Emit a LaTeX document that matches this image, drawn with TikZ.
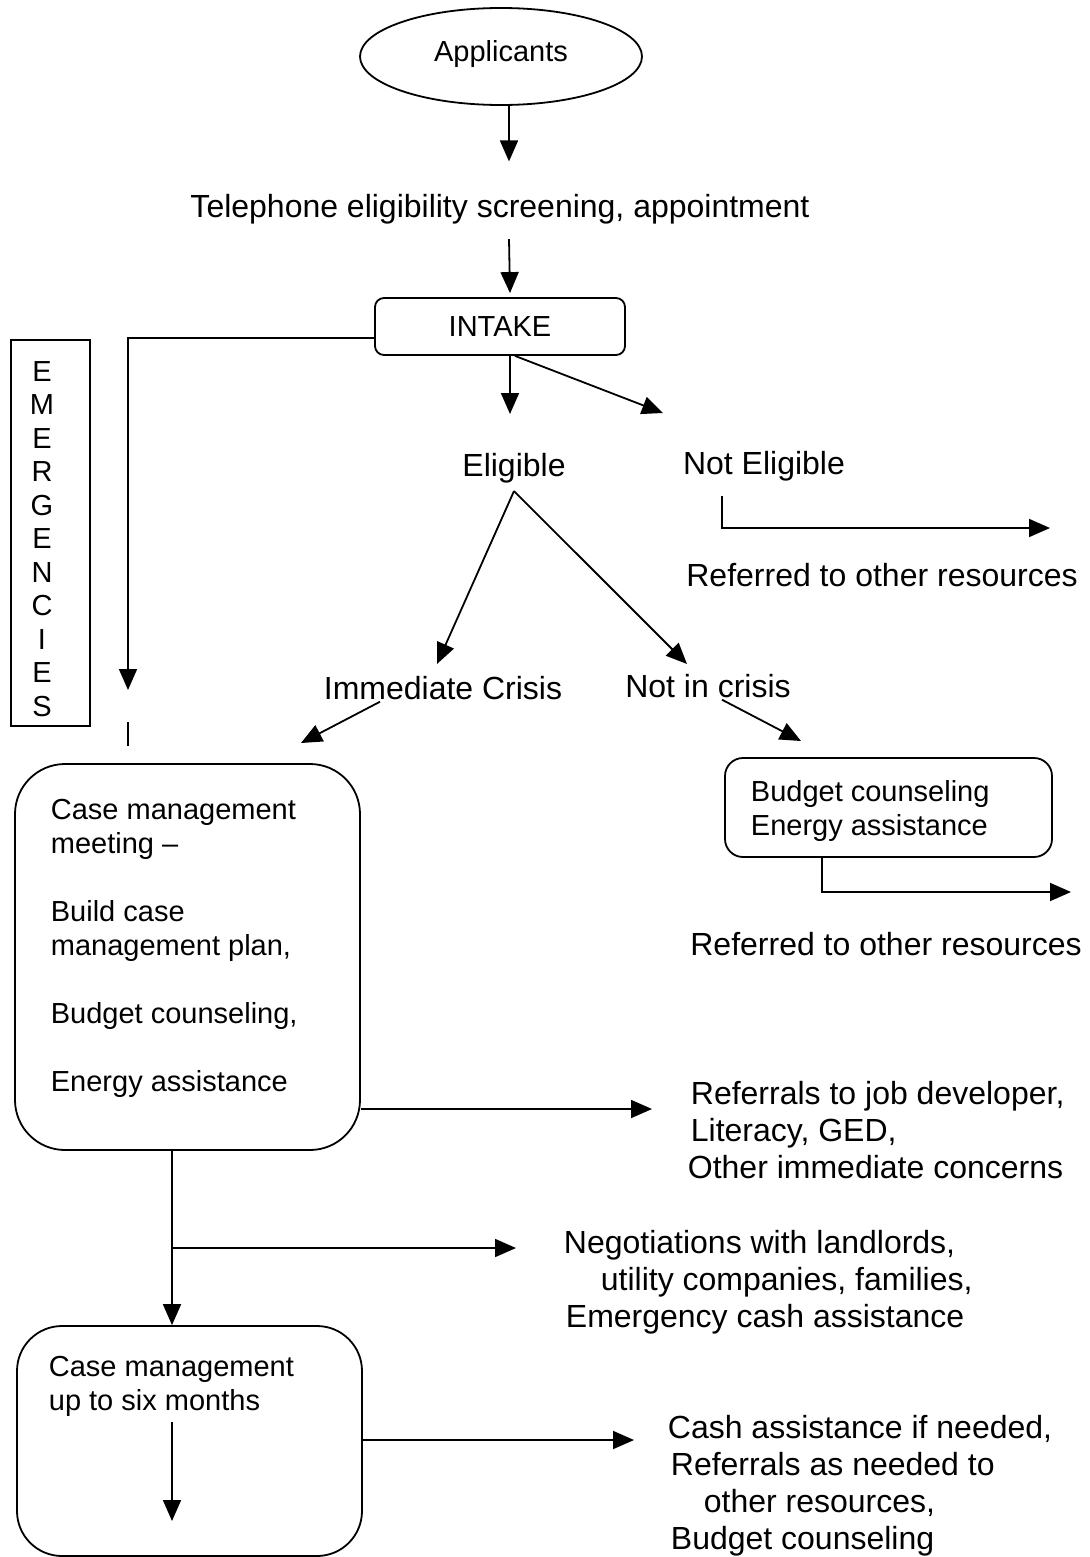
\documentclass[tikz,border=0pt]{standalone}
\usepackage{fontspec}
\setmainfont{Liberation Sans}
\usetikzlibrary{arrows.meta,shapes.geometric}
\begin{document}
\begin{tikzpicture}[x=1pt,y=-1pt,
  line width=1.8pt,
  arr/.style={-{Triangle[length=21pt,width=18pt]}},
  big/.style={font=\fontsize{32}{37}\selectfont, inner sep=0pt},
  sm/.style={font=\fontsize{29}{34}\selectfont, inner sep=0pt},
  box/.style={draw, line width=1.8pt, inner sep=0pt}]
\useasboundingbox (0,0) rectangle (1089,1557);

% top
\node[draw, ellipse, minimum width=282pt, minimum height=97pt, inner sep=0pt,
  font=\fontsize{29}{34}\selectfont] (app) at (501,56.5) {\raisebox{11pt}{Applicants}};
\node[big, anchor=base] (tel) at (500,217.5) {Telephone eligibility screening, appointment};
\node[box, rounded corners=9pt, minimum width=250pt, minimum height=57pt, sm] (intake) at (500,326.5) {INTAKE};

\draw[arr] ([xshift=8pt]app.south) -- ([xshift=9pt,yshift=32pt]tel.north);
\draw[arr] ([xshift=9pt,yshift=-14pt]tel.south) -- ([xshift=10pt,yshift=4pt]intake.north);

% emergencies
\node[draw, line width=1.5pt, minimum width=79pt, minimum height=386pt, inner sep=0pt] (emerg) at (50.5,533) {};
\foreach \L [count=\i] in {E,M,E,R,G,E,N,C,I,E,S}
  \node[sm, anchor=base] (em\i) at (42,{381+33.5*(\i-1)}) {\L};
\coordinate (emtip) at (128,690);
\draw[arr] (intake.west |- 0,338) -| (emtip);
\coordinate (emA) at (128,722);
\coordinate (emB) at (128,746);
\draw (emA) -- (emB);

% eligibility
\node[big, anchor=base] (elig) at (514,476.5) {Eligible};
\node[big, anchor=base] (nelig) at (764,474.5) {Not Eligible};
\coordinate (eligtop) at (510,414);
\coordinate (neligtop) at (663,413);
\draw[arr] ([xshift=10pt]intake.south) -- (eligtop);
\draw[arr] ([xshift=15pt]intake.south) -- (neligtop);

\node[big, anchor=base] (ref1) at (882,586.5) {Referred to other resources};
\coordinate (ref1tip) at (1050,528);
\draw[arr] ([xshift=-42pt,yshift=-14pt]nelig.south) |- (ref1tip);

\node[big, anchor=base] (crisis) at (443,699.5) {Immediate Crisis};
\node[big, anchor=base] (nocrisis) at (708,697.5) {Not in crisis};
\coordinate (crisistip) at (437,664);
\coordinate (nocrisistip) at (687,664);
\draw[arr] ([yshift=-7pt]elig.south) -- (crisistip);
\draw[arr] ([yshift=-7pt]elig.south) -- (nocrisistip);

% case management meeting
\node[box, rounded corners=50pt, minimum width=345pt, minimum height=386pt] (case1) at (187.5,957) {};
\node[sm, anchor=base west, align=left] (case1txt) at (50,1091.5)
  {Case management\\meeting –\\[34pt]Build case\\management plan,\\[34pt]Budget counseling,\\[34pt]Energy assistance};
\coordinate (c1tip) at (301,743);
\draw[arr] ([xshift=-63pt,yshift=-1pt]crisis.south) -- (c1tip);

% budget box
\node[box, rounded corners=18pt, minimum width=327pt, minimum height=99pt] (bud) at (888.5,807.5) {};
\node[sm, anchor=base west, align=left] (budtxt) at (750,835.5) {Budget counseling\\Energy assistance};
\coordinate (budtip) at (801,741);
\draw[arr] ([xshift=14pt,yshift=-1pt]nocrisis.south) -- (budtip);

\node[big, anchor=base] (ref2) at (886,955.5) {Referred to other resources};
\coordinate (ref2tip) at (1071,892);
\draw[arr] ([xshift=-66.5pt]bud.south) |- (ref2tip);

% referrals
\node[big, anchor=base west, align=left] (refs) at (690,1178.5)
  {Referrals to job developer,\\Literacy, GED,\\\hspace*{-3pt}Other immediate concerns};
\coordinate (refstip) at (652,1109);
\draw[arr] (case1.east |- refstip) -- (refstip);

% case management 2
\node[box, rounded corners=45pt, minimum width=345pt, minimum height=230pt] (case2) at (189.5,1441) {};
\node[sm, anchor=base west, align=left] (case2txt) at (48,1410.5) {Case management\\up to six months};

\coordinate (spine) at (172,1248);
\coordinate (negtip) at (516,1248);
\draw[arr] (case1.south -| spine) -- (case2.north -| spine);
\draw[arr] (spine) -- (negtip);
\node[big, anchor=base west, align=left] (neg) at (563,1327.5)
  {Negotiations with landlords,\\\hspace*{37pt}utility companies, families,\\\hspace*{2pt}Emergency cash assistance};

\coordinate (c2tip) at (172,1521);
\draw[arr] ([yshift=-5pt]case2txt.south -| spine) -- (c2tip);

\coordinate (cashtip) at (634,1440);
\draw[arr] (case2.east |- cashtip) -- (cashtip);
\node[big, anchor=base west, align=left] (cash) at (667,1549.5)
  {Cash assistance if needed,\\\hspace*{3pt}Referrals as needed to\\\hspace*{36pt}other resources,\\\hspace*{3pt}Budget counseling};
\end{tikzpicture}
\end{document}
